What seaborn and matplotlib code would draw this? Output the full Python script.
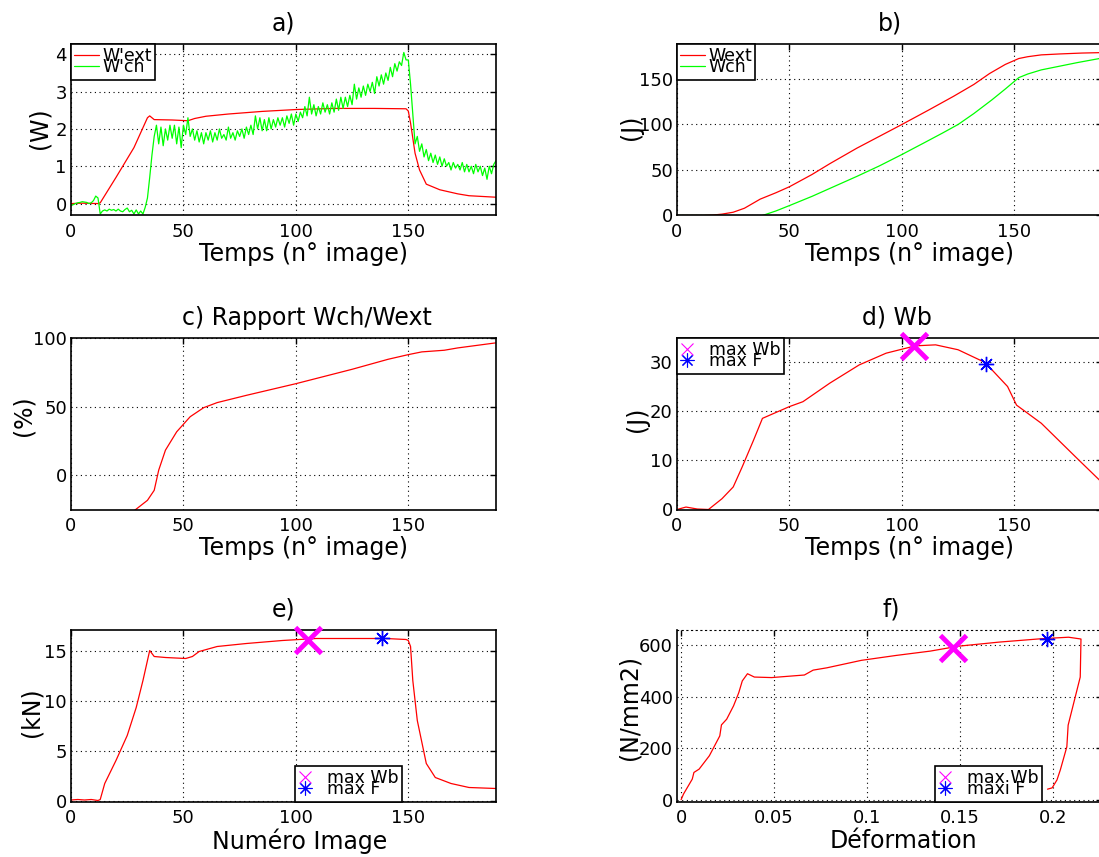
import matplotlib
matplotlib.use('Agg')
import matplotlib.pyplot as plt
from matplotlib.lines import Line2D
import seaborn as sns

# a) puissances W'ext / W'ch
a_x_ext = [0, 5, 12, 13, 20, 28, 34, 35, 37, 45, 52, 55, 60, 70, 85, 100, 117, 135, 149, 150,
           151, 153, 155, 158, 164, 172, 177, 189]
a_w_ext = [0.0, 0.01, 0.0, 0.02, 0.7, 1.5, 2.3, 2.35, 2.25, 2.24, 2.22, 2.28, 2.34, 2.4, 2.47, 2.52,
           2.55, 2.55, 2.54, 2.48, 2.16, 1.35, 0.9, 0.52, 0.37, 0.26, 0.21, 0.17]
a_w_ch = [-0.05, -0.03, 0.0, 0.02, 0.03, 0.05, 0.04, 0.03, 0.0, 0.02, 0.08,
          0.2, 0.15, -0.28, -0.2, -0.17, -0.2, -0.15, -0.18, -0.16, -0.2,
          -0.15, -0.2, -0.22, -0.16, -0.12, -0.22, -0.18, -0.28, -0.17, -0.28,
          -0.2, -0.28, -0.1, 0.15, 0.7, 1.3, 1.8, 2.1, 1.6, 2.05,
          1.55, 2.0, 1.7, 2.1, 1.75, 2.1, 1.6, 2.05, 1.5, 2.1,
          1.85, 2.3, 1.8, 2.0, 1.7, 1.95, 1.65, 1.9, 1.6, 1.9,
          1.7, 1.95, 1.65, 1.9, 1.7, 2.0, 1.75, 1.85, 1.7, 2.05,
          1.75, 1.9, 1.7, 1.95, 1.8, 2.0, 1.75, 2.05, 1.85, 2.1,
          1.85, 2.35, 2.0, 2.3, 1.95, 2.25, 1.95, 2.3, 2.0, 2.25,
          2.05, 2.3, 2.1, 2.3, 2.05, 2.35, 2.15, 2.4, 2.1, 2.4,
          2.2, 2.45, 2.3, 2.6, 2.35, 2.85, 2.4, 2.65, 2.35, 2.6,
          2.4, 2.7, 2.45, 2.65, 2.4, 2.7, 2.45, 2.8, 2.5, 2.85,
          2.55, 2.85, 2.6, 2.9, 2.65, 3.2, 2.8, 3.1, 2.85, 3.15,
          2.9, 3.2, 3.0, 3.25, 2.95, 3.4, 3.15, 3.45, 3.2, 3.5,
          3.3, 3.65, 3.4, 3.75, 3.55, 3.8, 3.7, 4.05, 3.85, 3.85,
          3.2, 2.4, 1.6, 1.8, 1.4, 1.6, 1.25, 1.45, 1.15, 1.35,
          1.1, 1.3, 1.05, 1.25, 1.0, 1.2, 1.0, 1.1, 0.9, 1.1,
          0.95, 1.05, 0.9, 1.1, 0.85, 1.05, 0.85, 1.0, 0.8, 1.05,
          0.85, 1.0, 0.75, 0.95, 0.65, 1.0, 0.8, 1.05, 1.15]
a_x_ch = list(range(len(a_w_ch)))

# b) energies cumulees
b_x_ext = [0, 12, 16, 20, 25, 30, 37, 44, 50, 60, 68, 80, 90, 100, 112, 123, 132, 139, 146, 152,
           156, 162, 170, 180, 189]
b_w_ext = [0, 0, 0.5, 1.5, 3.6, 8, 18, 25, 31.6, 45, 57, 74, 87, 100, 116, 131, 144, 156, 166, 172.5,
           174.5, 176.5, 177.5, 178.5, 179]
b_x_ch = [0, 20, 25, 30, 36, 38, 44, 50, 60, 70, 80, 90, 100, 110, 118, 125, 132, 140, 146, 152,
          156, 162, 170, 178, 189]
b_w_ch = [0, 0, -0.5, -1.0, -1.2, 0, 5, 10.9, 21, 32, 43, 54.5, 67, 80, 90.5, 100, 112, 127, 139, 151.5,
          155.5, 160, 164, 168, 173]

# c) rapport Wch/Wext
c_x = [28, 34, 37, 39, 42, 47, 53, 59, 65, 78, 100, 125, 141, 150, 156, 166, 172, 189]
c_ratio = [-26, -18.3, -11, 3.7, 18.3, 31.7, 42.7, 49.3, 53, 58.3, 66.8, 77.3, 84.6, 88, 90, 91.2,
           92.9, 96.6]

# d) Wb
d_x = [0, 4, 9, 14, 20, 25, 29, 34, 38, 44, 50, 56, 68, 81, 93, 106, 115, 125, 137, 147, 151, 162,
       178, 189]
d_wb = [0, 0.5, 0.1, 0, 2.2, 4.6, 8.7, 14.1, 18.6, 19.8, 21, 22, 25.8, 29.5, 31.9, 33.4, 33.6, 32.6,
        30, 25.1, 21.3, 17.6, 10.4, 5.5]
d_max_wb = (105.5, 33.4)
d_max_f = (137.5, 29.6)

# e) effort
e_x = [0, 3, 6, 9, 12, 13, 15, 20, 25, 29, 32, 35, 37, 42, 51, 54, 57, 65, 78, 94, 109, 125, 140,
       149, 150, 151, 152, 154, 158, 162, 169, 177, 189]
e_force = [0.05, 0.1, 0.05, 0.1, 0.0, 0.1, 1.7, 4.0, 6.5, 9.3, 12.0, 15.0, 14.4, 14.3, 14.2, 14.4,
           14.9, 15.4, 15.7, 16.0, 16.2, 16.2, 16.2, 16.1, 16.0, 15.4, 12.0, 8.0, 3.7, 2.3, 1.7, 1.3, 1.2]
e_max_wb = (105.5, 16.05)
e_max_f = (138.2, 16.25)

# f) contrainte / deformation
f_strain = [0, 0.0013, 0.006, 0.0069, 0.0097, 0.0152, 0.0208, 0.0217, 0.0245, 0.0282, 0.031,
            0.0329, 0.0357, 0.0394, 0.0487, 0.0663, 0.071, 0.0784, 0.0969, 0.1155, 0.134, 0.149,
            0.171, 0.1935, 0.2083, 0.2150, 0.2146, 0.2081, 0.2074, 0.2039, 0.2021, 0.1995, 0.197]
f_stress = [0, 22, 80, 106, 119, 171, 248, 291, 313, 365, 416, 462, 490, 477, 475, 485, 504, 513,
            542, 561, 578, 597, 613, 626, 632, 625, 477, 290, 206, 116, 77, 46, 41]
f_max_wb = (0.1461, 591)
f_max_f = (0.1965, 624)
f_xticks = [0, 0.05, 0.1, 0.15, 0.2]
f_xticklabels = ['0', '0.05', '0.1', '0.15', '0.2']

temps_ticks = [0, 50, 100, 150]

sns.set_theme(style='white')
plt.rcParams['font.family'] = ['DejaVu Sans']
plt.rcParams['axes.edgecolor'] = 'black'
plt.rcParams['axes.linewidth'] = 1.2
plt.rcParams['text.color'] = 'black'
plt.rcParams['axes.labelcolor'] = 'black'
plt.rcParams['xtick.color'] = 'black'
plt.rcParams['ytick.color'] = 'black'

RED = '#ff0000'
GREEN = '#00ff00'
MAGENTA = '#ff00ff'
BLUE = '#0000ff'
STAR = (8, 2, 0)
W, H = 1099, 857
AX_W, AX_H = 425, 172
LABEL_FS = 17
DOTS = (0, (1, 3.2))


def make_axes(fig, left_px, top_px):
    return fig.add_axes([left_px / W, 1 - (top_px + AX_H) / H, AX_W / W, AX_H / H])


def style_axes(ax, title, xlabel, ylabel, xlim, ylim, xticks, yticks,
               ylab_px, title_x=0.5, xlab_x=0.547, ylab_y=0.5):
    ax.set_xlim(*xlim)
    ax.set_ylim(*ylim)
    ax.set_xticks(xticks)
    ax.set_yticks(yticks)
    ax.grid(True, color='black', linestyle=DOTS, linewidth=0.8)
    ax.tick_params(direction='in', length=4, width=1, top=True, right=True,
                   labelsize=13, pad=3)
    ax.tick_params(axis='x', pad=5.5)
    ax.set_title(title, fontsize=LABEL_FS, pad=9, x=title_x)
    ax.set_xlabel(xlabel, fontsize=LABEL_FS)
    ax.set_ylabel(ylabel, fontsize=LABEL_FS)
    ax.yaxis.label.set_verticalalignment('center')
    ax.yaxis.set_label_coords(-ylab_px / AX_W, ylab_y)
    ax.xaxis.set_label_coords(xlab_x, -27 / AX_H)
    for sp in ax.spines.values():
        sp.set_color('black')
        sp.set_linewidth(1.2)


def box_legend(ax, handles=None, **kw):
    leg = ax.legend(handles=handles, fontsize=12.5, frameon=True, fancybox=False,
                    edgecolor='black', framealpha=1, borderpad=0.2,
                    labelspacing=-0.4, borderaxespad=0, **kw)
    leg.get_frame().set_linewidth(1.2)
    return leg


def marker_handles(label_f):
    return [
        Line2D([], [], color=MAGENTA, marker='x', linestyle='none', markersize=9,
               markeredgewidth=0.8, label='max Wb'),
        Line2D([], [], color=BLUE, marker=STAR, linestyle='none', markersize=10,
               markeredgewidth=0.8, label=label_f),
    ]


def mark_points(ax, max_wb, max_f):
    ax.plot(*max_wb, marker='x', color=MAGENTA, markersize=19, markeredgewidth=3.5,
            clip_on=False, zorder=5)
    ax.plot(*max_f, marker=STAR, color=BLUE, markersize=11, markeredgewidth=1,
            clip_on=False, zorder=5)


fig = plt.figure(figsize=(W / 100, H / 100), dpi=100)

LEFT, RIGHT = 71, 677
ROWS = [43.5, 337.5, 629.5]
temps = 'Temps (n° image)'

# a)
ax = make_axes(fig, LEFT, ROWS[0])
sns.lineplot(x=a_x_ext, y=a_w_ext, ax=ax, color=RED, lw=0.9, label="W'ext",
             estimator=None, sort=False)
sns.lineplot(x=a_x_ch, y=a_w_ch, ax=ax, color=GREEN, lw=0.9, label="W'ch",
             estimator=None, sort=False)
style_axes(ax, 'a)', temps, '(W)', (0, 189), (-0.32, 4.29), temps_ticks, [0, 1, 2, 3, 4],
           31, ylab_y=0.51)
box_legend(ax, loc='upper left', bbox_to_anchor=(0, 1), handlelength=1.4, handletextpad=0.2)

# b)
ax = make_axes(fig, RIGHT, ROWS[0])
sns.lineplot(x=b_x_ext, y=b_w_ext, ax=ax, color=RED, lw=0.9, label='Wext',
             estimator=None, sort=False)
sns.lineplot(x=b_x_ch, y=b_w_ch, ax=ax, color=GREEN, lw=0.9, label='Wch',
             estimator=None, sort=False)
style_axes(ax, 'b)', temps, '(J)', (0, 189), (0, 189), temps_ticks, [0, 50, 100, 150],
           46, ylab_y=0.515)
box_legend(ax, loc='upper left', bbox_to_anchor=(0, 1), handlelength=1.4, handletextpad=0.2)

# c)
ax = make_axes(fig, LEFT, ROWS[1])
sns.lineplot(x=c_x, y=c_ratio, ax=ax, color=RED, lw=0.9, estimator=None, sort=False)
style_axes(ax, 'c) Rapport Wch/Wext', temps, '(%)', (0, 189), (-25, 100.5), temps_ticks,
           [0, 50, 100], 48, title_x=0.555, ylab_y=0.545)

# d)
ax = make_axes(fig, RIGHT, ROWS[1])
sns.lineplot(x=d_x, y=d_wb, ax=ax, color=RED, lw=0.9, estimator=None, sort=False)
mark_points(ax, d_max_wb, d_max_f)
style_axes(ax, 'd) Wb', temps, '(J)', (0, 189), (0, 35.1), temps_ticks, [0, 10, 20, 30],
           40, title_x=0.518, ylab_y=0.526)
box_legend(ax, handles=marker_handles('max F'), loc='upper left', bbox_to_anchor=(0, 1),
           handlelength=0.8, handletextpad=0.85)

# e)
ax = make_axes(fig, LEFT, ROWS[2])
sns.lineplot(x=e_x, y=e_force, ax=ax, color=RED, lw=0.9, estimator=None, sort=False)
mark_points(ax, e_max_wb, e_max_f)
style_axes(ax, 'e)', 'Numéro Image', '(kN)', (0, 189), (-0.1, 17.1), temps_ticks,
           [0, 5, 10, 15], 40, xlab_x=0.537, ylab_y=0.52)
box_legend(ax, handles=marker_handles('max F'), loc='lower left', bbox_to_anchor=(0.527, 0),
           handlelength=0.8, handletextpad=0.85)

# f)
ax = make_axes(fig, RIGHT, ROWS[2])
sns.lineplot(x=f_strain, y=f_stress, ax=ax, color=RED, lw=0.9, estimator=None, sort=False)
mark_points(ax, f_max_wb, f_max_f)
style_axes(ax, 'f)', 'Déformation', '(N/mm2)', (-0.0022, 0.2263), (-7, 662), f_xticks,
           [0, 200, 400, 600], 48, title_x=0.504, xlab_x=0.532, ylab_y=0.544)
ax.set_xticklabels(f_xticklabels)
ax.spines['top'].set_linestyle(DOTS)
ax.spines['top'].set_linewidth(0.8)
box_legend(ax, handles=marker_handles('maxi F'), loc='lower left', bbox_to_anchor=(0.607, 0),
           handlelength=0.8, handletextpad=0.85)

fig.savefig('out.png', dpi=100)
